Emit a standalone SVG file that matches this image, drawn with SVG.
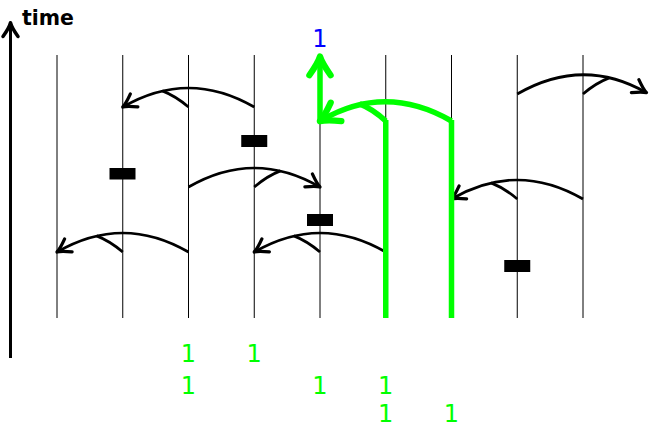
<svg xmlns="http://www.w3.org/2000/svg" width="649" height="428" viewBox="0 0 649 428">
<style>
.proc{stroke:#000;stroke-width:1;fill:none}
.msg{stroke:#000;stroke-width:2.8;fill:none}
.tick{stroke:#000;stroke-width:2.8;fill:none}
.gmsg{stroke:#00ff00;stroke-width:5.5;fill:none}
.blk{fill:#000}
.num{font-family:"DejaVu Sans",sans-serif;font-size:24px;fill:#00ff00;text-anchor:middle}
</style>
<defs>
<marker id="ah" markerUnits="userSpaceOnUse" markerWidth="20" markerHeight="20" viewBox="-12 -8 14 16" refX="0" refY="0" orient="auto" overflow="visible">
<path d="M-10.5 -6 Q-3.5 -1 0 0 Q-3.5 1 -10.5 6" fill="none" stroke="#000" stroke-width="2.6" stroke-linecap="round" stroke-linejoin="round"/>
</marker>
<marker id="gah" markerUnits="userSpaceOnUse" markerWidth="30" markerHeight="30" viewBox="-20 -12 24 24" refX="-2" refY="0" orient="auto" overflow="visible">
<path d="M-15 -8.5 Q-5 -1.5 0 0 Q-5 1.5 -15 8.5" fill="none" stroke="#00ff00" stroke-width="5" stroke-linecap="round" stroke-linejoin="round"/>
</marker>
<marker id="tah" markerUnits="userSpaceOnUse" markerWidth="20" markerHeight="20" viewBox="-14 -8 16 16" refX="-1" refY="0" orient="auto" overflow="visible">
<path d="M-11 -6 Q-4 -1 0 0 Q-4 1 -11 6" fill="none" stroke="#000" stroke-width="2.8" stroke-linecap="round" stroke-linejoin="round"/>
</marker>
</defs>
<g id="time-axis">
<line x1="10.5" y1="358" x2="10.5" y2="24" stroke="#000" stroke-width="3" marker-end="url(#tah)"/>
<text x="22" y="25" font-family="'DejaVu Sans',sans-serif" font-weight="bold" font-size="22" textLength="52" lengthAdjust="spacingAndGlyphs">time</text>
</g>
<g id="processes">
<line id="p1" class="proc" x1="57" y1="55" x2="57" y2="318"/>
<line id="p2" class="proc" x1="122.75" y1="55" x2="122.75" y2="318"/>
<line id="p3" class="proc" x1="188.5" y1="55" x2="188.5" y2="318"/>
<line id="p4" class="proc" x1="254.25" y1="55" x2="254.25" y2="318"/>
<line id="p5" class="proc" x1="320" y1="55" x2="320" y2="318"/>
<line id="p6" class="proc" x1="385.75" y1="55" x2="385.75" y2="318"/>
<line id="p7" class="proc" x1="451.5" y1="55" x2="451.5" y2="318"/>
<line id="p8" class="proc" x1="517.25" y1="55" x2="517.25" y2="318"/>
<line id="p9" class="proc" x1="583" y1="55" x2="583" y2="318"/>
</g>
<g id="blocks">
<rect id="b1" class="blk" x="241.25" y="135" width="26" height="12"/>
<rect id="b2" class="blk" x="109.5" y="168" width="26" height="11.5"/>
<rect id="b3" class="blk" x="307" y="214" width="26" height="12"/>
<rect id="b4" class="blk" x="504.25" y="260" width="26" height="12"/>
</g>
<g id="connectors">
<path class="msg" d="M254.25 107 C209.85 81.4 167.15 81.4 122.75 107" marker-end="url(#ah)"/>
<path class="tick" d="M188.5 107 Q175.4 95.9 162.35 90.87"/>
<path class="msg" d="M517.25 94 C561.65 68.4 604.35 68.4 646.5 92.7" marker-end="url(#ah)"/>
<path class="tick" d="M583 94 Q596 82.9 609.16 77.87"/>
<path class="msg" d="M188.5 187 C232.9 161.4 275.6 161.4 320 187" marker-end="url(#ah)"/>
<path class="tick" d="M254.25 187 Q267.3 175.9 280.41 170.87"/>
<path class="msg" d="M188.5 252 C144.1 226.4 101.4 226.4 57 252" marker-end="url(#ah)"/>
<path class="tick" d="M122.75 252 Q109.7 240.9 96.6 235.87"/>
<path class="msg" d="M385.75 252 C341.35 226.4 298.65 226.4 254.25 252" marker-end="url(#ah)"/>
<path class="tick" d="M320 252 Q306.9 240.9 293.84 235.87"/>
<path class="msg" d="M583 199 C538.6 173.4 495.9 173.4 451.5 199" marker-end="url(#ah)"/>
<path class="tick" d="M517.25 199 Q504.2 187.9 491.1 182.87"/>
<g id="green-path">
<line class="gmsg" x1="385.75" y1="318" x2="385.75" y2="120"/>
<line class="gmsg" x1="451.5" y1="318" x2="451.5" y2="120"/>
<path class="gmsg" d="M451.5 121 C407.1 95.4 364.4 95.4 322 120" marker-end="url(#gah)"/>
<path class="gmsg" d="M385.75 121 Q372.7 108.9 359.6 103.87"/>
<line class="gmsg" x1="320" y1="122.5" x2="320" y2="59" marker-end="url(#gah)"/>
</g>
</g>
<g id="labels">
<text x="320" y="47" font-family="'DejaVu Sans',sans-serif" font-size="24" fill="#0000ff" text-anchor="middle">1</text>
<text class="num" x="188.5" y="362">1</text>
<text class="num" x="254.25" y="362">1</text>
<text class="num" x="188.5" y="394">1</text>
<text class="num" x="320" y="394">1</text>
<text class="num" x="385.75" y="394">1</text>
<text class="num" x="385.75" y="422">1</text>
<text class="num" x="451.5" y="422">1</text>
</g>
</svg>
